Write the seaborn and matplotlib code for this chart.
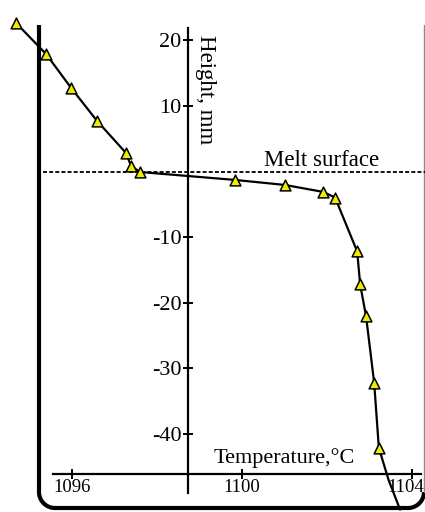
import numpy as np
import pandas as pd
import seaborn as sns
import matplotlib
matplotlib.use("Agg")
import matplotlib.pyplot as plt
import matplotlib.transforms as mtransforms

# ---- data ----
temperature = [1094.68, 1095.39, 1095.98, 1096.59, 1097.27, 1097.39, 1097.60,
               1099.84, 1101.01, 1101.91, 1102.19, 1102.71, 1102.78, 1102.92,
               1103.11, 1103.22]
height = [22.6, 17.85, 12.68, 7.66, 2.79, 0.81, -0.11,
          -1.32, -2.08, -3.14, -4.0, -12.2, -17.2, -22.1,
          -32.2, -42.1]
# continuation of the profile below the last measured point (line only)
tail_temperature = [1103.22, 1103.45, 1103.72]
tail_height = [-42.1, -47.0, -51.5]
melt_surface = -0.1
x_ticks = [1096, 1100, 1104]
y_ticks = [20, 10, -10, -20, -30, -40]

sns.set_theme(style="white")
plt.rcParams['font.family'] = ['Liberation Serif', 'DejaVu Serif']
plt.rcParams['text.color'] = 'black'

fig = plt.figure(figsize=(4.25, 5.12), dpi=100)
ax = fig.add_axes([0, 0, 1, 1])

# pixel <-> data mapping
x0, y0 = 1094.306, 26.07
xmax, ymin = 1104.306, -51.86
ax.set_xlim(x0, xmax)
ax.set_ylim(ymin, y0)
ppx = 425 / (xmax - x0)
ppy = 512 / (y0 - ymin)
def px2x(p):
    return x0 + p / ppx
def py2y(p):
    return y0 - p / ppy

df = pd.DataFrame({"T": temperature, "H": height})
tail = pd.DataFrame({"T": tail_temperature, "H": tail_height})

sns.lineplot(data=df, x="T", y="H", sort=False, estimator=None, ax=ax,
             color="black", lw=1.6, zorder=3)
sns.lineplot(data=tail, x="T", y="H", sort=False, estimator=None, ax=ax,
             color="black", lw=1.6, zorder=3)
sns.scatterplot(data=df, x="T", y="H", ax=ax, marker="^", s=60,
                color="#f0ea00", edgecolor="black", linewidth=1.1, zorder=4)

# melt surface
ax.plot([px2x(43), xmax], [melt_surface, melt_surface], ls=(0, (2.2, 1.2)),
        color="black", lw=1.3, zorder=2)
ax.text(px2x(322), py2y(160), "Melt surface", fontsize=16.5,
        ha="center", va="center", color="black")

# axes through data coordinates
y_axis_x = px2x(188)
x_axis_y = py2y(474)
ax.set_ylabel(""); ax.set_xlabel("")
for s in ["top", "right"]:
    ax.spines[s].set_visible(False)
ax.spines["left"].set_position(("data", y_axis_x))
ax.spines["left"].set_bounds(py2y(493), py2y(28))
ax.spines["bottom"].set_position(("data", x_axis_y))
ax.spines["bottom"].set_bounds(px2x(53), px2x(421))
for s in ["left", "bottom"]:
    ax.spines[s].set_color("black")
    ax.spines[s].set_linewidth(1.6)
    ax.spines[s].set_zorder(2)
ax.set_xticks(x_ticks)
ax.set_yticks(y_ticks)
ax.tick_params(axis="both", direction="inout", length=7, width=1.4,
               color="black", labelcolor="black", left=True, bottom=True)
ax.tick_params(axis="y", labelsize=16, pad=1)
ax.tick_params(axis="x", labelsize=13.5, pad=0)
ax.set_yticklabels([str(v) for v in y_ticks])
ax.set_xticklabels([str(v) for v in x_ticks])
# shift the last x label left so it stays inside the picture
last = ax.get_xticklabels()[-1]
last.set_transform(last.get_transform() +
                   mtransforms.ScaledTranslation(-6 / 100, 0, fig.dpi_scale_trans))

ax.text(px2x(206), py2y(90), "Height, mm", rotation=-90, fontsize=16.5,
        ha="center", va="center", color="black")
ax.text(px2x(284), py2y(458), "Temperature,°C", fontsize=16,
        ha="center", va="center", color="black")

# crucible outline
r = 16
t = np.linspace(0, np.pi / 2, 20)
lx = [39] * 2 + list(39 + r - r * np.cos(t)) + [408]
ly = [25, 492] + list(492 + r * np.sin(t)) + [508]
lx += list(408 + r * np.sin(t))
ly += list(492 + r * np.cos(t))
ax.plot([px2x(v) for v in lx], [py2y(v) for v in ly], color="black",
        lw=3.0, solid_capstyle="butt", zorder=1)
ax.plot([px2x(424), px2x(424)], [py2y(492), py2y(25)], color="#8a8a8a",
        lw=1.0, zorder=1)

fig.savefig("out.png", dpi=100)
